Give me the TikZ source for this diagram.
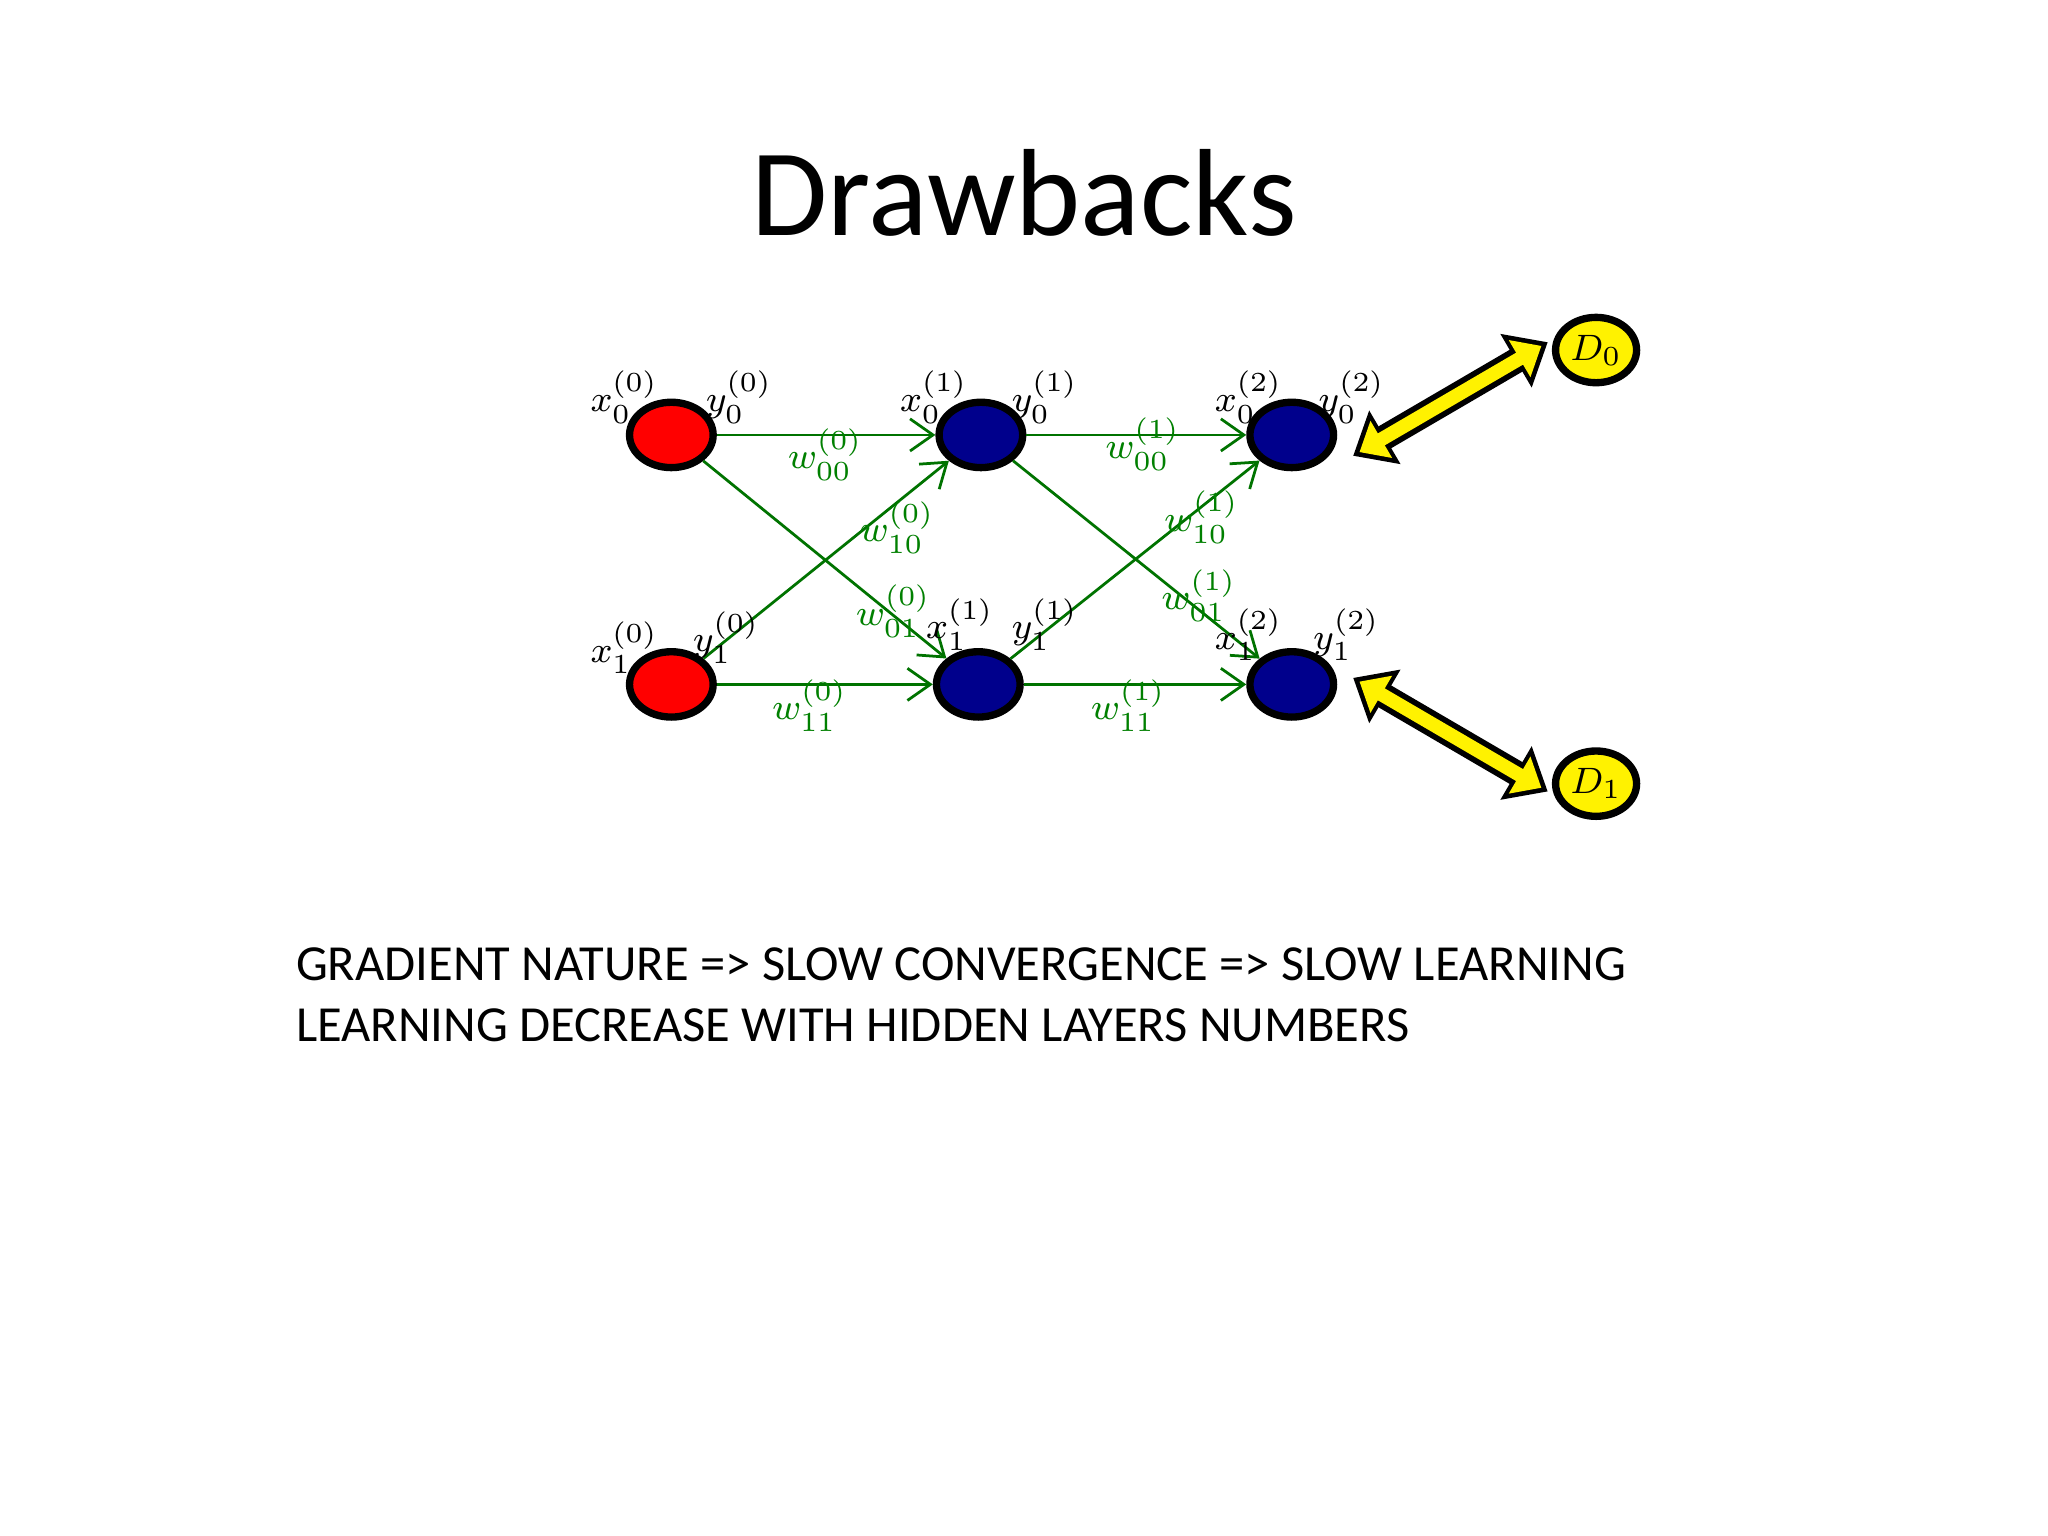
\documentclass[tikz,border=0pt]{standalone}
\usepackage{fontspec}
\setmainfont{Carlito}
\usepackage{amsmath}
\usetikzlibrary{arrows.meta,shapes.geometric}
\begin{document}
\begin{tikzpicture}[x=0.01cm,y=-0.01cm,
 neu/.style={ellipse,draw=black,line width=1.6pt,minimum width=0.64cm,minimum height=0.5cm,inner sep=0},
 ed/.style={draw=green!45!black,line width=0.6pt,-{Straight Barb[length=5pt,width=7pt]}},
 wl/.style={text=green!50!black,font=\fontsize{8}{8}\selectfont,inner sep=1pt},
 nl/.style={font=\fontsize{8}{8}\selectfont,inner sep=1pt},
 yb/.style={black,line width=5.5pt,{Triangle[length=8pt,width=13pt]}-{Triangle[length=8pt,width=13pt]}},
 yf/.style={yellow,line width=3pt,shorten <=1.6pt,shorten >=1.6pt,{Triangle[length=5.5pt,width=9pt]}-{Triangle[length=5.5pt,width=9pt]}}]
\useasboundingbox[fill=white] (0,0) rectangle (1568,1176);
\node[font=\fontsize{27}{27}\selectfont] (t) at (784,148) {Drawbacks};
\node[neu,fill=red] (a0) at (514,333) {};
\node[neu,fill=red] (a1) at (514,524) {};
\node[neu,fill=blue!55!black] (b0) at (751,333) {};
\node[neu,fill=blue!55!black] (b1) at (749,524) {};
\node[neu,fill=blue!55!black] (c0) at (989,333) {};
\node[neu,fill=blue!55!black] (c1) at (989,524) {};
\node[neu,fill=yellow,minimum width=0.62cm,minimum height=0.5cm] (d0) at (1222,268) {\fontsize{8}{8}\selectfont $D_0$};
\node[neu,fill=yellow,minimum width=0.62cm,minimum height=0.5cm] (d1) at (1222,600) {\fontsize{8}{8}\selectfont $D_1$};
\draw[ed] (a0) -- (b0); \draw[ed] (a0) -- (b1); \draw[ed] (a1) -- (b0); \draw[ed] (a1) -- (b1);
\draw[ed] (b0) -- (c0); \draw[ed] (b0) -- (c1); \draw[ed] (b1) -- (c0); \draw[ed] (b1) -- (c1);
\coordinate (p0) at (1036,349); \coordinate (q0) at (1185,262);
\coordinate (p1) at (1036,519); \coordinate (q1) at (1185,606);
\draw[yb] (p0) -- (q0); \draw[yf] (p0) -- (q0);
\draw[yb] (p1) -- (q1); \draw[yf] (p1) -- (q1);
\node[nl] at (478,304) {$x_0^{(0)}$}; \node[nl] at (566,304) {$y_0^{(0)}$};
\node[nl] at (478,496) {$x_1^{(0)}$}; \node[nl] at (556,488) {$y_1^{(0)}$};
\node[nl] at (715,304) {$x_0^{(1)}$}; \node[nl] at (800,304) {$y_0^{(1)}$};
\node[nl] at (735,478) {$x_1^{(1)}$}; \node[nl] at (800,478) {$y_1^{(1)}$};
\node[nl] at (956,304) {$x_0^{(2)}$}; \node[nl] at (1035,304) {$y_0^{(2)}$};
\node[nl] at (956,486) {$x_1^{(2)}$}; \node[nl] at (1031,486) {$y_1^{(2)}$};
\node[wl] at (632,348) {$w_{00}^{(0)}$}; \node[wl] at (687,404) {$w_{10}^{(0)}$};
\node[wl] at (684,468) {$w_{01}^{(0)}$}; \node[wl] at (620,540) {$w_{11}^{(0)}$};
\node[wl] at (875,340) {$w_{00}^{(1)}$}; \node[wl] at (920,396) {$w_{10}^{(1)}$};
\node[wl] at (918,456) {$w_{01}^{(1)}$}; \node[wl] at (864,540) {$w_{11}^{(1)}$};
\node[anchor=west,font=\fontsize{11}{11}\selectfont,inner sep=0] (l1) at (226,738) {GRADIENT NATURE => SLOW CONVERGENCE => SLOW LEARNING};
\node[anchor=west,font=\fontsize{11}{11}\selectfont,inner sep=0] (l2) at (226,785) {LEARNING DECREASE WITH HIDDEN LAYERS NUMBERS};
\end{tikzpicture}
\end{document}
